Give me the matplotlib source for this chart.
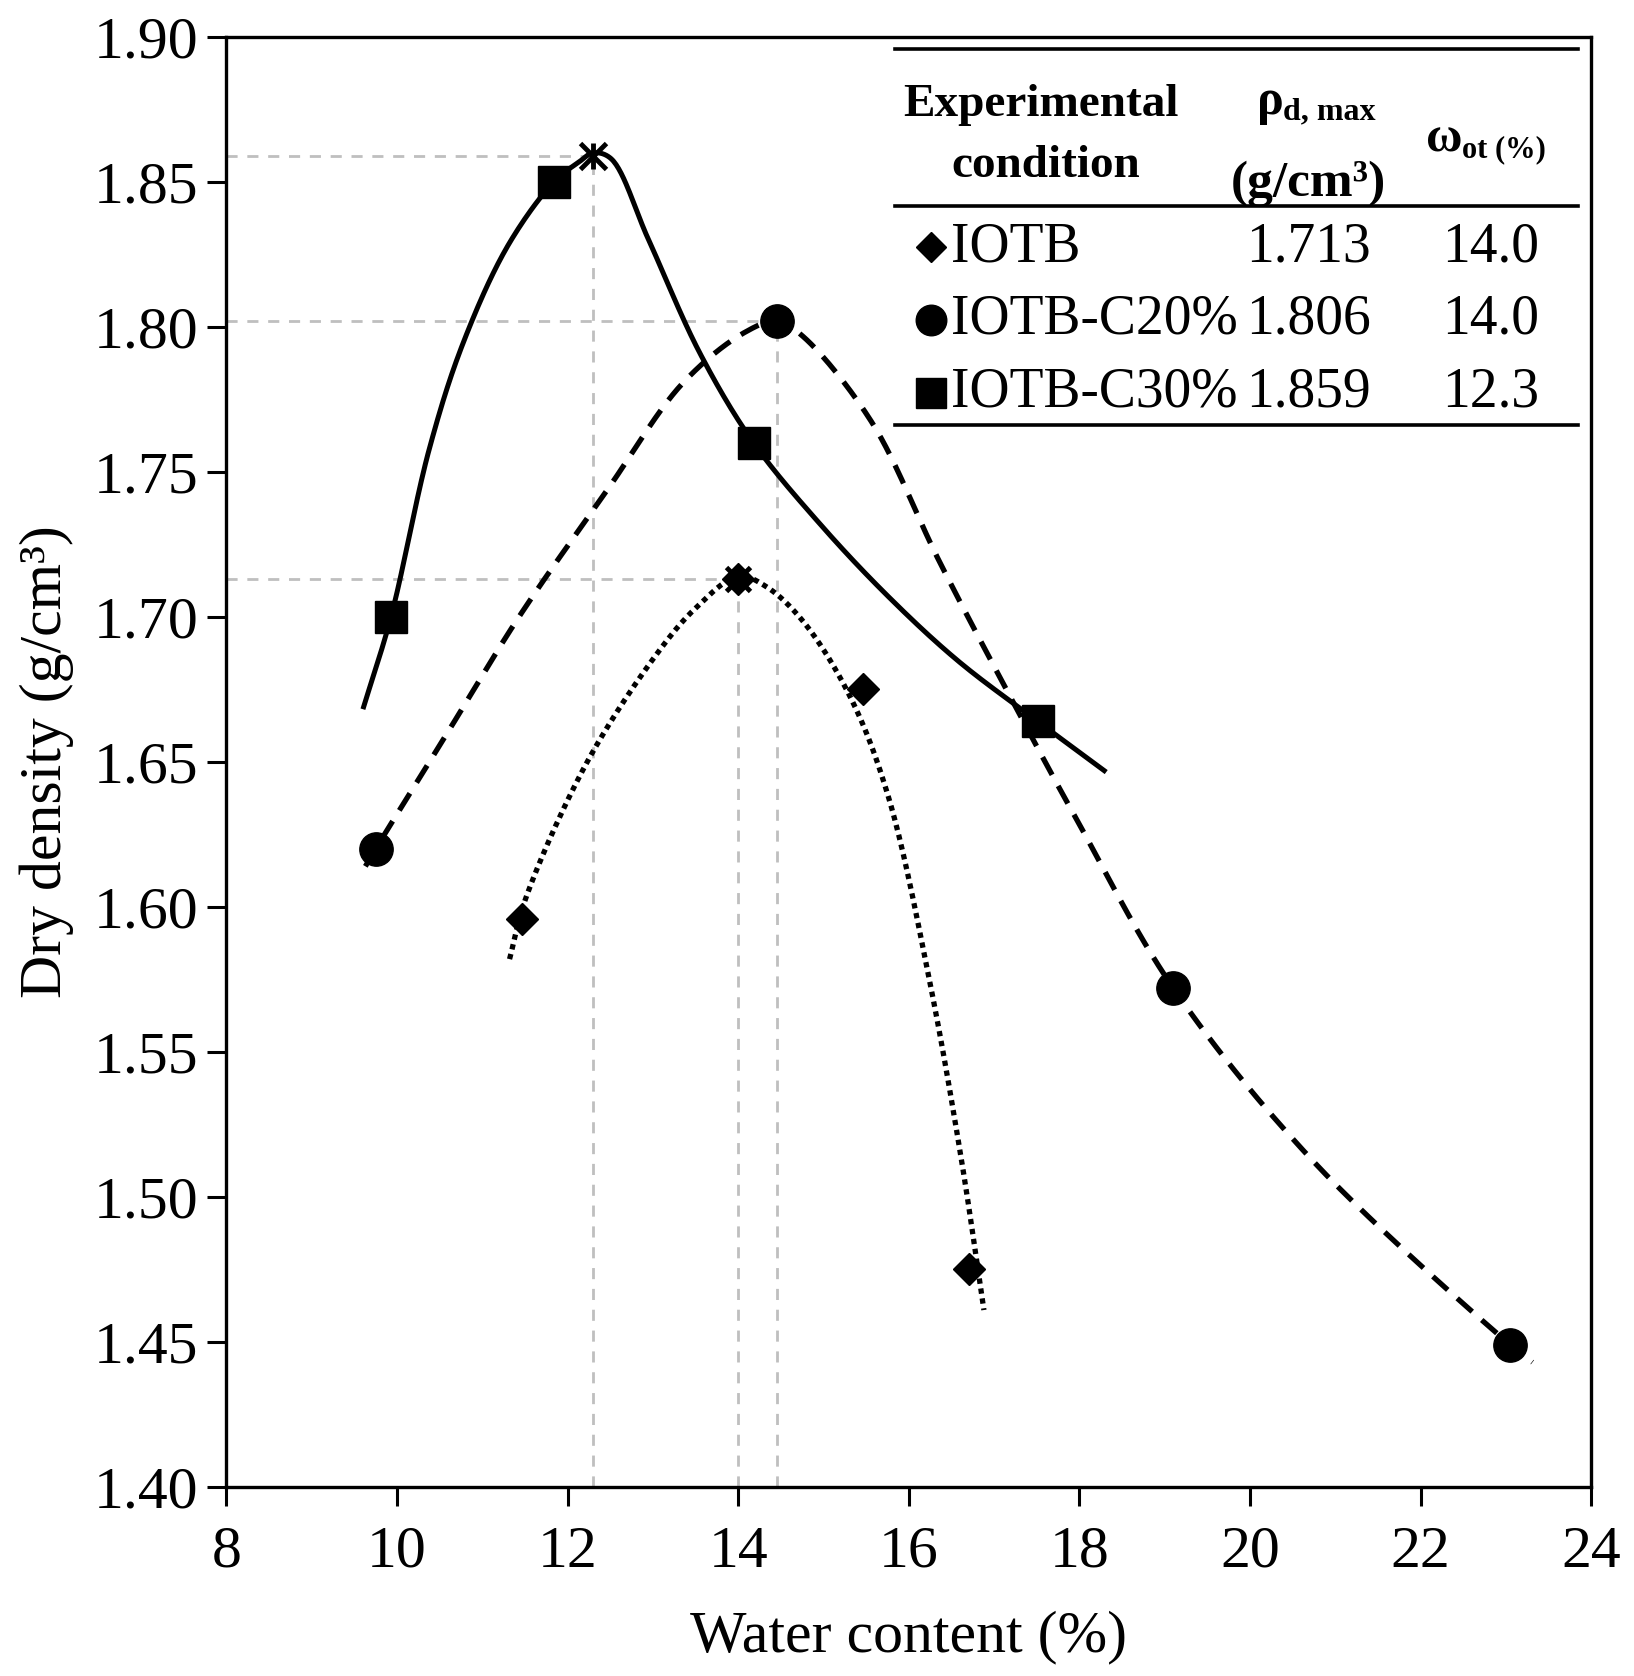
import numpy as np
import matplotlib
matplotlib.use("Agg")
import matplotlib.pyplot as plt

plt.rcParams['font.family'] = ['Liberation Serif', 'DejaVu Serif']

# measured points
w_iotb = [11.47, 14.0, 15.46, 16.71]
rho_iotb = [1.596, 1.713, 1.675, 1.475]
w_c20 = [9.75, 14.46, 19.1, 23.05]
rho_c20 = [1.620, 1.802, 1.572, 1.449]
w_c30 = [9.93, 11.84, 14.18, 17.51]
rho_c30 = [1.700, 1.850, 1.760, 1.664]

# optimum points
w_opt = [14.0, 14.46, 12.3]
rho_opt = [1.713, 1.802, 1.859]

# curve anchor points
curve_iotb_w = [11.32, 11.51, 12.23, 13.04, 13.5, 14.0, 14.32, 14.76, 15.32, 15.76,
                16.24, 16.61, 16.88]
curve_iotb_r = [1.582, 1.603, 1.650, 1.687, 1.703, 1.714, 1.7106, 1.6985, 1.672, 1.638,
                1.575, 1.514, 1.461]
curve_c20_w = [9.63, 9.75, 10.57, 11.43, 12.47, 13.35, 14.07, 14.46, 14.76, 15.56,
               16.36, 17.17, 17.97, 19.1, 20.75, 23.05, 23.31]
curve_c20_r = [1.614, 1.620, 1.659, 1.700, 1.744, 1.7806, 1.798, 1.802, 1.7967, 1.7674,
               1.719, 1.6735, 1.630, 1.572, 1.512, 1.449, 1.443]
curve_c30_w = [9.61, 9.93, 10.38, 10.77, 11.3, 11.84, 12.14, 12.3, 12.51, 12.95, 13.55,
               14.18, 14.96, 15.76, 16.57, 17.51, 18.29]
curve_c30_r = [1.669, 1.700, 1.758, 1.794, 1.828, 1.850, 1.857, 1.860, 1.858, 1.830, 1.791,
               1.760, 1.732, 1.707, 1.685, 1.664, 1.647]

# table
tbl_names = ['IOTB', 'IOTB-C20%', 'IOTB-C30%']
tbl_markers = ['D', 'o', 's']
tbl_rho = ['1.713', '1.806', '1.859']
tbl_w = ['14.0', '14.0', '12.3']


def smooth(xs, ys, n=30, alpha=0.5):
    # centripetal catmull-rom through the anchors (roughly pixel-isotropic units)
    p = np.column_stack([np.asarray(xs) / 16.0 * 1365, np.asarray(ys) / 0.5 * 1450])
    p = np.vstack([2 * p[0] - p[1], p, 2 * p[-1] - p[-2]])
    out = []
    for i in range(1, len(p) - 2):
        p0, p1, p2, p3 = p[i - 1], p[i], p[i + 1], p[i + 2]
        t0 = 0.0
        t1 = t0 + np.linalg.norm(p1 - p0) ** alpha
        t2 = t1 + np.linalg.norm(p2 - p1) ** alpha
        t3 = t2 + np.linalg.norm(p3 - p2) ** alpha
        t = np.linspace(t1, t2, n, endpoint=False)[:, None]
        a1 = (t1 - t) / (t1 - t0) * p0 + (t - t0) / (t1 - t0) * p1
        a2 = (t2 - t) / (t2 - t1) * p1 + (t - t1) / (t2 - t1) * p2
        a3 = (t3 - t) / (t3 - t2) * p2 + (t - t2) / (t3 - t2) * p3
        b1 = (t2 - t) / (t2 - t0) * a1 + (t - t0) / (t2 - t0) * a2
        b2 = (t3 - t) / (t3 - t1) * a2 + (t - t1) / (t3 - t1) * a3
        out.append((t2 - t) / (t2 - t1) * b1 + (t - t1) / (t2 - t1) * b2)
    out.append(p[-2][None, :])
    out = np.vstack(out)
    return out[:, 0] / 1365 * 16.0, out[:, 1] / 1450 * 0.5


fig = plt.figure(figsize=(16.34, 16.76), dpi=100)
ax = fig.add_axes([0.1385, 0.1128, 0.8354, 0.8652])

gray = '#BFBFBF'
for wo, ro in zip(w_opt, rho_opt):
    ax.plot([8, wo], [ro, ro], color=gray, lw=2, dashes=(4, 3.5), zorder=1)
    ax.plot([wo, wo], [1.40, ro], color=gray, lw=2, dashes=(4, 3.5), zorder=1)

x, y = smooth(curve_iotb_w, curve_iotb_r)
ax.plot(x, y, color='black', lw=3.8, dashes=(1, 0.9), zorder=2)
x, y = smooth(curve_c20_w, curve_c20_r)
ax.plot(x, y, color='black', lw=3.8, dashes=(3.8, 2.4), zorder=2)
x, y = smooth(curve_c30_w, curve_c30_r)
ax.plot(x, y, color='black', lw=3.6, zorder=2)

ax.plot(w_iotb, rho_iotb, 'D', color='black', ms=16, zorder=3)
ax.plot(w_c20, rho_c20, 'o', color='black', ms=24, zorder=3)
ax.plot(w_c30, rho_c30, 's', color='black', ms=23, zorder=3)

# optimum marks
ax.plot(w_opt[2], rho_opt[2], 'x', color='black', ms=19, mew=3.5, zorder=4)
ax.plot(w_opt[2], rho_opt[2], '|', color='black', ms=19, mew=3.5, zorder=4)
ax.plot(w_opt[:2], rho_opt[:2], 'x', color='black', ms=17, mew=3.5, zorder=4)

ax.set_xlim(8, 24)
ax.set_ylim(1.40, 1.90)
ax.set_xticks(np.arange(8, 25, 2))
ax.set_yticks(np.arange(1.40, 1.901, 0.05))
ax.set_yticklabels([f'{v:.2f}' for v in np.arange(1.40, 1.901, 0.05)])
ax.tick_params(axis='both', direction='out', length=14, width=2.2, labelsize=43, colors='black')
ax.tick_params(axis='y', pad=6)
ax.tick_params(axis='x', pad=14)
for s in ax.spines.values():
    s.set_linewidth(2.4)

ax.set_xlabel('Water content (%)', fontsize=43, labelpad=22)
ax.set_ylabel('Dry density (g/cm³)', fontsize=43, labelpad=14)

# table inside the axes
tr = ax.transAxes
for yy in [0.9917, 0.8834, 0.7324]:
    ax.plot([0.490, 0.990], [yy, yy], color='black', lw=2.6, transform=tr, clip_on=False)

ax.text(0.597, 0.953, 'Experimental', transform=tr, ha='center', va='center',
        fontsize=34, fontweight='bold')
ax.text(0.600, 0.911, 'condition', transform=tr, ha='center', va='center',
        fontsize=34, fontweight='bold')
ax.text(0.755, 0.955, 'ρ', transform=tr, ha='left', va='center', fontsize=36, fontweight='bold')
ax.text(0.774, 0.948, 'd, max', transform=tr, ha='left', va='center', fontsize=23, fontweight='bold')
ax.text(0.793, 0.899, '(g/cm³)', transform=tr, ha='center', va='center', fontsize=37, fontweight='bold')
ax.text(0.879, 0.929, 'ω', transform=tr, ha='left', va='center', fontsize=36, fontweight='bold')
ax.text(0.905, 0.922, 'ot (%)', transform=tr, ha='left', va='center', fontsize=22, fontweight='bold')

row_y = [0.855, 0.805, 0.7545]
for yy, nm, mk, rv, wv in zip(row_y, tbl_names, tbl_markers, tbl_rho, tbl_w):
    ms = {'D': 15, 'o': 22, 's': 21}[mk]
    ax.plot([0.5165], [yy], mk, color='black', ms=ms, transform=tr, clip_on=False)
    ax.text(0.531, yy, nm, transform=tr, ha='left', va='center', fontsize=40)
    ax.text(0.793, yy, rv, transform=tr, ha='center', va='center', fontsize=40)
    ax.text(0.926, yy, wv, transform=tr, ha='center', va='center', fontsize=40)

fig.savefig('out.png', dpi=100, facecolor='white')
